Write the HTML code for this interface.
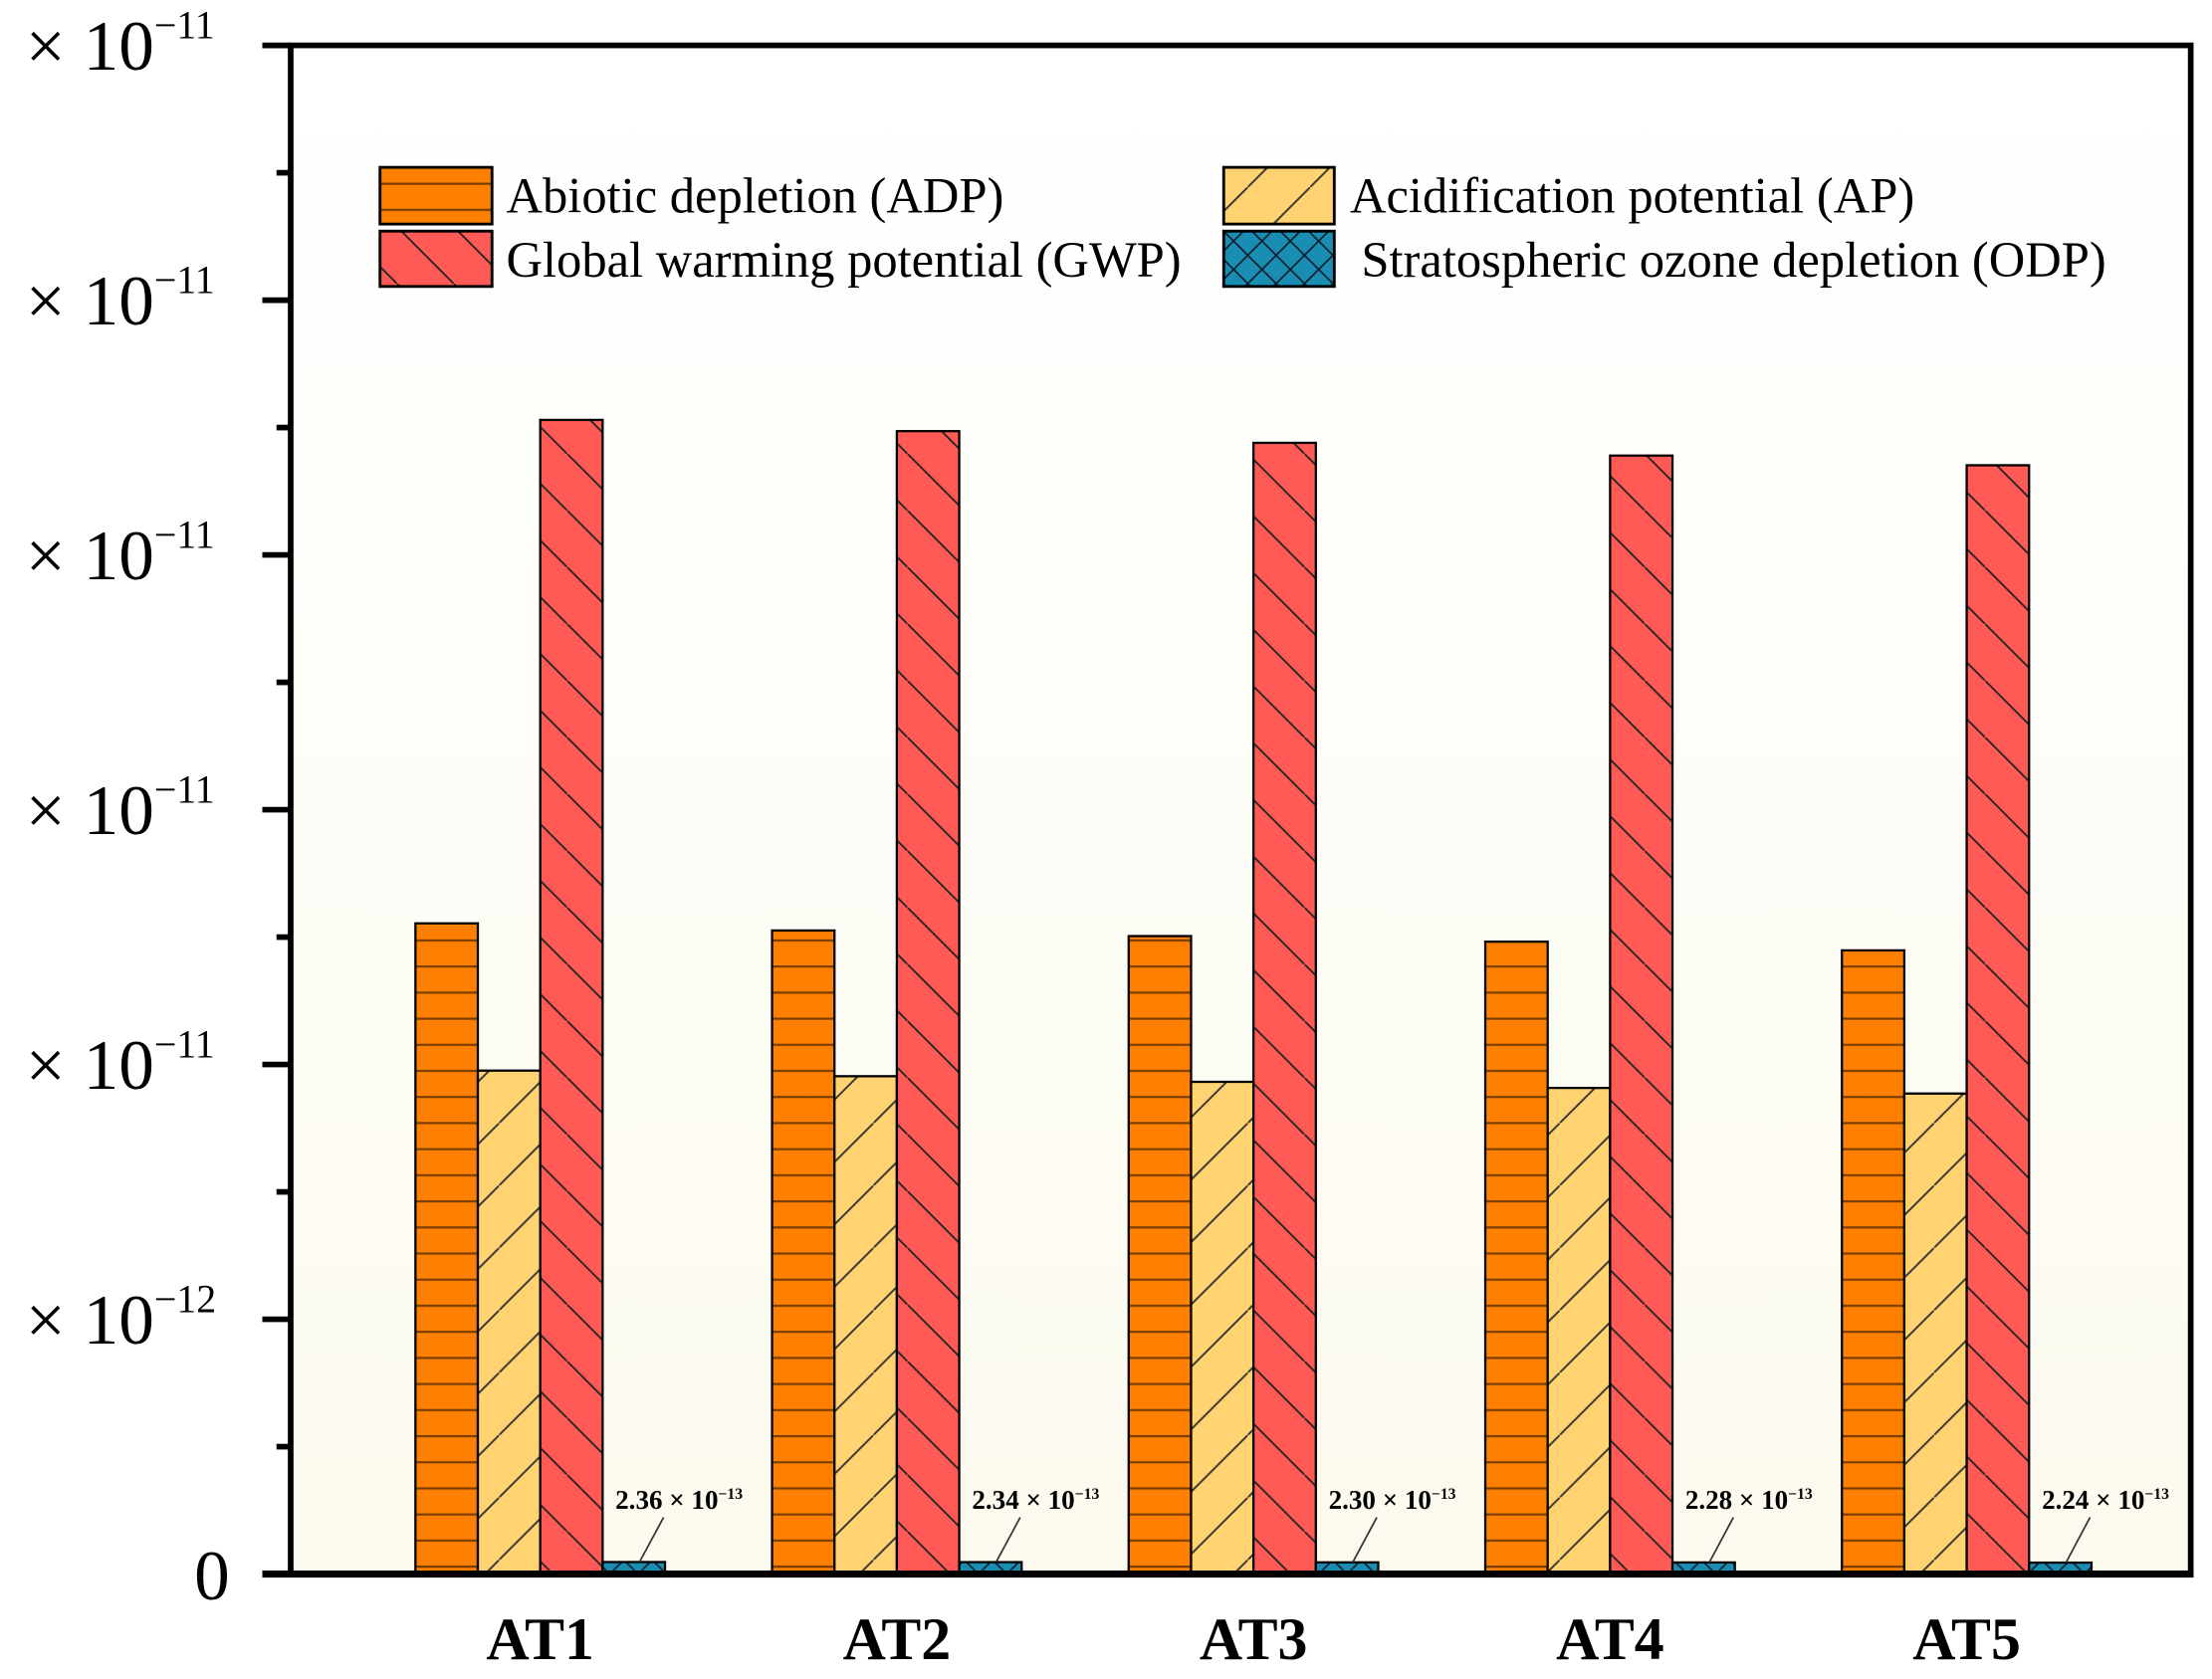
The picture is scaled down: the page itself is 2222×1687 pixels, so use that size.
<!DOCTYPE html>
<html><head><meta charset="utf-8">
<style>
html,body{margin:0;padding:0;background:#fff;}
svg{display:block;}
text{font-family:"Liberation Serif",serif;}
</style></head>
<body>
<svg id="chart" width="2222" height="1687" viewBox="0 0 1560 1184" preserveAspectRatio="none" xmlns="http://www.w3.org/2000/svg">
<defs>
<linearGradient id="bg" x1="0" y1="0" x2="0" y2="1">
<stop offset="0" stop-color="#ffffff"/><stop offset="1" stop-color="#fcfaee"/>
</linearGradient>
<pattern id="pADP" patternUnits="userSpaceOnUse" width="44" height="18.4">
<rect width="44" height="18.4" fill="#ff8000"/><line x1="0" y1="0.8" x2="44" y2="0.8" stroke="#7a3e00" stroke-width="1.6"/>
</pattern>
<pattern id="pAP" patternUnits="userSpaceOnUse" width="44" height="44">
<rect width="44" height="44" fill="#ffd272"/><line x1="0" y1="44" x2="44" y2="0" stroke="#333" stroke-width="1.3"/>
</pattern>
<pattern id="pGWP" patternUnits="userSpaceOnUse" width="40" height="40">
<rect width="40" height="40" fill="#ff5a55"/><line x1="0" y1="0" x2="40" y2="40" stroke="#222" stroke-width="1.3"/>
</pattern>
<pattern id="pODP" patternUnits="userSpaceOnUse" width="20" height="20">
<rect width="20" height="20" fill="#1a8db3"/><line x1="0" y1="0" x2="20" y2="20" stroke="#102030" stroke-width="1.2"/><line x1="0" y1="20" x2="20" y2="0" stroke="#102030" stroke-width="1.2"/>
</pattern>
</defs>
<rect x="205" y="32" width="1340" height="1078" fill="url(#bg)"/>
<g id="bars"></g>
<g id="annot"></g>
<rect x="205" y="32" width="1340" height="1078" fill="none" stroke="#000" stroke-width="4"/>
<line x1="185" y1="1110" x2="1547" y2="1110" stroke="#000" stroke-width="5"/>
<g id="yaxis"></g>
<g id="xaxis"></g>
<g font-size="35.5">
<rect x="268" y="118" width="79" height="40" fill="url(#pADP)" stroke="#000" stroke-width="2"/>
<text x="357" y="150">Abiotic depletion (ADP)</text>
<rect x="268" y="163" width="79" height="39" fill="url(#pGWP)" stroke="#000" stroke-width="2"/>
<text x="357" y="195">Global warming potential (GWP)</text>
<rect x="863" y="118" width="78" height="40" fill="url(#pAP)" stroke="#000" stroke-width="2"/>
<text x="952" y="150">Acidification potential (AP)</text>
<rect x="863" y="163" width="78" height="39" fill="url(#pODP)" stroke="#000" stroke-width="2"/>
<text x="960" y="195">Stratospheric ozone depletion (ODP)</text>
</g>
</svg>
<script>
const categories = ["AT1","AT2","AT3","AT4","AT5"];
const adpValues = [1.277e-11,1.263e-11,1.252e-11,1.241e-11,1.224e-11];
const apValues = [0.988e-11,0.977e-11,0.966e-11,0.954e-11,0.943e-11];
const gwpValues = [2.265e-11,2.243e-11,2.220e-11,2.195e-11,2.176e-11];
const odpValues = [2.36e-13,2.34e-13,2.30e-13,2.28e-13,2.24e-13];
const odpLabels = ["2.36","2.34","2.30","2.28","2.24"];
const yTickValues = [0,5e-12,1e-11,1.5e-11,2e-11,2.5e-11,3e-11];
const yTickExp = ["","−12","−11","−11","−11","−11","−11"];

const NS = "http://www.w3.org/2000/svg";
const Y0 = 1110, YTOP = 32, YMAX = 3e-11;
function yScale(v){ return Y0 - v / YMAX * (Y0 - YTOP); }
function xCenter(i){ return 381 + i * 251.5; }
const BW = 44;
function mk(tag, attrs, parent){ const e = document.createElementNS(NS, tag); for (const k in attrs) e.setAttribute(k, attrs[k]); parent.appendChild(e); return e; }

const barsG = document.getElementById('bars');
const series = [[adpValues,'url(#pADP)','adp',-2],[apValues,'url(#pAP)','ap',-1],[gwpValues,'url(#pGWP)','gwp',0],[odpValues,'url(#pODP)','odp',1]];
series.forEach(s => {
  s[0].forEach((v, i) => {
    const x = xCenter(i) + s[3] * BW;
    const y = yScale(v);
    const r = mk('rect', {x: x, y: y, width: BW, height: Y0 - y, fill: s[1], stroke: '#000', 'stroke-width': 1.6}, barsG);
    
    
  });
});

const annG = document.getElementById('annot');
odpLabels.forEach((lab, i) => {
  const cx = xCenter(i) + BW * 1.5;
  const yb = yScale(odpValues[i]);
  const ln = mk('line', {x1: cx + 21, y1: 1070, x2: cx + 4, y2: yb, stroke: '#333', 'stroke-width': 1.2}, annG);
  
  
  const t = mk('text', {x: cx - 13, y: 1064, 'font-size': 19, 'font-weight': 'bold'}, annG);
  
  
  t.textContent = lab + ' × 10';
  const sup = mk('tspan', {dy: -7, 'font-size': 11}, t);
  sup.textContent = '−13';
});

const yG = document.getElementById('yaxis');
yTickValues.forEach((v, i) => {
  const y = yScale(v);
  const tk = mk('line', {x1: 185, y1: y, x2: 205, y2: y, stroke: '#000', 'stroke-width': 4}, yG);
  
  
  if (i < yTickValues.length - 1) {
    const ym = yScale((v + yTickValues[i + 1]) / 2);
    const mt = mk('line', {x1: 195, y1: ym, x2: 205, y2: ym, stroke: '#000', 'stroke-width': 4}, yG);
    
    
  }
  const t = mk('text', {'font-size': 50}, yG);
  
  
  if (yTickExp[i] === '') {
    t.setAttribute('x', 162); t.setAttribute('y', y + 18); t.setAttribute('text-anchor', 'end');
    t.textContent = '0';
  } else {
    t.setAttribute('x', 18); t.setAttribute('y', y + 17);
    t.textContent = '× 10';
    const sup = mk('tspan', {dy: -22, 'font-size': 28}, t);
    sup.textContent = yTickExp[i];
  }
});

const xG = document.getElementById('xaxis');
categories.forEach((c, i) => {
  const t = mk('text', {x: xCenter(i), y: 1170, 'text-anchor': 'middle', 'font-size': 42, 'font-weight': 'bold'}, xG);
  
  
  t.textContent = c;
});
</script>
</body></html>
